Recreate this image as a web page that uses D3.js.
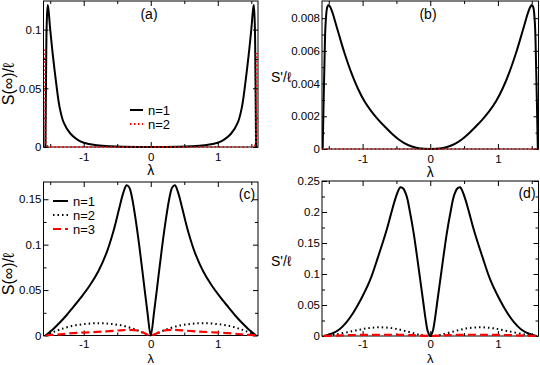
<!DOCTYPE html>
<html>
<head>
<meta charset="utf-8">
<script src="https://cdn.jsdelivr.net/npm/d3@7"></script>
<style>
  body { margin: 0; background: #fff; }
  text { font-family: "Liberation Sans", Arial, sans-serif; fill: #000; }
</style>
</head>
<body>
<script>
// Datos (lambda, valor)
const xTicks = [-1, 0, 1];
const xMinor = [-1.5, -0.5, 0.5, 1.5];

// (a) S(inf)/l
const lamA1 = [-1.5708, -1.562, -1.552, -1.537, -1.522, -1.50, -1.46, -1.41, -1.36, -1.30, -1.20, -1.10, -1.00, -0.80, -0.60, -0.40, -0.20, 0,
  0.20, 0.40, 0.60, 0.80, 1.00, 1.10, 1.20, 1.30, 1.36, 1.41, 1.46, 1.50, 1.522, 1.537, 1.552, 1.562, 1.5708];
const valA1 = [0, 0.06, 0.105, 0.121, 0.115, 0.100, 0.078, 0.054, 0.034, 0.021, 0.0115, 0.0065, 0.0036, 0.0015, 0.0006, 0.0002, 0.00003, 0,
  0.00003, 0.0002, 0.0006, 0.0015, 0.0036, 0.0065, 0.0115, 0.021, 0.034, 0.054, 0.078, 0.100, 0.115, 0.121, 0.105, 0.06, 0];
const lamA2 = [-1.577, -1.575, -1.57, -1.56, -1.53, -1.45, -1.2, 0, 1.2, 1.45, 1.53, 1.56, 1.57, 1.575, 1.577];
const valA2 = [0.083, 0.03, 0.008, 0.002, 0.0005, 0.0001, 0, 0, 0, 0.0001, 0.0005, 0.002, 0.008, 0.03, 0.08];
const yTicksA = [0, 0.05, 0.1];
const yMinorA = [0.025, 0.075];

// (b) S'/l
const lamB1 = [-1.59, -1.565, -1.545, -1.52, -1.50, -1.48, -1.45, -1.42, -1.35, -1.27, -1.17, -1.07, -0.97, -0.87, -0.77, -0.67, -0.57, -0.47, -0.37, -0.27, -0.17, 0,
  0.17, 0.27, 0.37, 0.47, 0.57, 0.67, 0.77, 0.87, 0.97, 1.07, 1.17, 1.27, 1.35, 1.42, 1.45, 1.48, 1.50, 1.52, 1.545, 1.565, 1.59];
const valB1 = [0, 0.0050, 0.0078, 0.0087, 0.0088, 0.0087, 0.0084, 0.0080, 0.0070, 0.0059, 0.0047, 0.0037, 0.0029, 0.0023, 0.0018, 0.00136, 0.00095, 0.0006, 0.00033, 0.00015, 0.00005, 0,
  0.00005, 0.00015, 0.00033, 0.0006, 0.00095, 0.00136, 0.0018, 0.0023, 0.0029, 0.0037, 0.0047, 0.0059, 0.0070, 0.0080, 0.0084, 0.0087, 0.0088, 0.0087, 0.0078, 0.0050, 0];
const lamB2 = [-1.59, 0, 1.59];
const valB2 = [0, 0, 0];
const yTicksB = [0, 0.002, 0.004, 0.006, 0.008];
const yMinorB = [0.001, 0.003, 0.005, 0.007];

// (c) S(inf)/l
const lamC1 = [-1.5708, -1.45, -1.36, -1.26, -1.16, -1.04, -0.91, -0.78, -0.66, -0.56, -0.47, -0.41, -0.36, -0.32, -0.28, -0.23, -0.17, -0.11, -0.05, 0,
  0.05, 0.11, 0.17, 0.23, 0.28, 0.32, 0.36, 0.41, 0.47, 0.56, 0.66, 0.78, 0.91, 1.04, 1.16, 1.26, 1.36, 1.45, 1.5708];
const valC1 = [0, 0.0075, 0.014, 0.022, 0.031, 0.042, 0.055, 0.071, 0.091, 0.114, 0.140, 0.157, 0.1655, 0.163, 0.152, 0.130, 0.098, 0.062, 0.026, 0,
  0.026, 0.062, 0.098, 0.130, 0.152, 0.163, 0.1655, 0.157, 0.140, 0.114, 0.091, 0.071, 0.055, 0.042, 0.031, 0.022, 0.014, 0.0075, 0];
const lamC2 = [-1.5708, -1.51, -1.36, -1.16, -0.96, -0.77, -0.60, -0.41, -0.21, -0.06, 0, 0.06, 0.21, 0.41, 0.60, 0.77, 0.96, 1.16, 1.36, 1.51, 1.5708];
const valC2 = [0, 0.002, 0.0065, 0.0107, 0.0128, 0.0136, 0.0128, 0.0107, 0.006, 0.0012, 0, 0.0012, 0.006, 0.0107, 0.0128, 0.0136, 0.0128, 0.0107, 0.0065, 0.002, 0];
const lamC3 = [-1.5708, -1.40, -1.16, -0.90, -0.66, -0.45, -0.31, -0.20, -0.12, -0.05, 0, 0.05, 0.12, 0.20, 0.31, 0.45, 0.66, 0.90, 1.16, 1.40, 1.5708];
const valC3 = [0, 0.001, 0.0026, 0.0036, 0.0046, 0.0057, 0.0062, 0.0055, 0.0035, 0.001, 0, 0.001, 0.0035, 0.0055, 0.0062, 0.0057, 0.0046, 0.0036, 0.0026, 0.001, 0];
const yTicksC = [0, 0.05, 0.1, 0.15];
const yMinorC = [0.025, 0.075, 0.125];

// (d) S'/l
const lamD1 = [-1.5708, -1.45, -1.34, -1.24, -1.14, -1.02, -0.89, -0.77, -0.645, -0.58, -0.52, -0.47, -0.44, -0.40, -0.35, -0.30, -0.245, -0.195, -0.145, -0.10, -0.07, -0.035, 0,
  0.035, 0.07, 0.10, 0.145, 0.195, 0.245, 0.30, 0.35, 0.40, 0.44, 0.47, 0.52, 0.58, 0.645, 0.77, 0.89, 1.02, 1.14, 1.24, 1.34, 1.45, 1.5708];
const valD1 = [0, 0.004, 0.011, 0.022, 0.037, 0.060, 0.090, 0.128, 0.171, 0.197, 0.220, 0.235, 0.240, 0.238, 0.226, 0.200, 0.166, 0.128, 0.088, 0.052, 0.028, 0.007, 0,
  0.007, 0.028, 0.052, 0.088, 0.128, 0.166, 0.200, 0.226, 0.238, 0.240, 0.235, 0.220, 0.197, 0.171, 0.128, 0.090, 0.060, 0.037, 0.022, 0.011, 0.004, 0];
const lamD2 = [-1.5708, -1.40, -1.14, -0.93, -0.75, -0.55, -0.35, -0.145, 0, 0.145, 0.35, 0.55, 0.75, 0.93, 1.14, 1.40, 1.5708];
const valD2 = [0, 0.0025, 0.008, 0.0125, 0.014, 0.0125, 0.0075, 0.0018, 0, 0.0018, 0.0075, 0.0125, 0.014, 0.0125, 0.008, 0.0025, 0];
const lamD3 = [-1.5708, -1.30, -1.00, -0.70, -0.40, -0.20, 0, 0.20, 0.40, 0.70, 1.00, 1.30, 1.5708];
const valD3 = [0, 0.001, 0.0018, 0.002, 0.0018, 0.001, 0, 0.001, 0.0018, 0.002, 0.0018, 0.001, 0];
const yTicksD = [0, 0.05, 0.1, 0.15, 0.2, 0.25];
const yMinorD = [0.025, 0.075, 0.125, 0.175, 0.225];

const width = 540;
const height = 365;

const estilos = {
  n1: { color: "#000", width: 2, dash: null },
  n2red: { color: "#ff0000", width: 2, dash: "1.5,2.5" },
  n2: { color: "#000", width: 2, dash: "1.5,3" },
  n3: { color: "#ff0000", width: 2.2, dash: "8,4" }
};

const svg = d3.select("body").append("svg")
  .attr("width", width)
  .attr("height", height);

function zip(xs, ys) {
  return xs.map((x, i) => [x, ys[i]]);
}

function panel(p) {
  const g = svg.append("g");
  const x = d3.scaleLinear().domain([-1.6, 1.6]).range([p.x0, p.x1]);
  const y = d3.scaleLinear().domain([0, p.ymax]).range([p.y1, p.y0]);

  // marco (primero, las curvas van encima)
  g.append("rect")
    .attr("x", p.x0).attr("y", p.y0)
    .attr("width", p.x1 - p.x0).attr("height", p.y1 - p.y0)
    .attr("fill", "none").attr("stroke", "#000").attr("stroke-width", 1);

  // ejes con ticks hacia adentro
  const fmt = d => String(d);
  g.append("g").attr("transform", `translate(0,${p.y1})`)
    .call(d3.axisBottom(x).tickValues(xTicks).tickSize(-5).tickSizeOuter(0).tickPadding(p.xPad).tickFormat(fmt));
  g.append("g").attr("transform", `translate(0,${p.y1})`)
    .call(d3.axisBottom(x).tickValues(xMinor).tickSize(-3).tickSizeOuter(0).tickFormat(""));
  g.append("g").attr("transform", `translate(0,${p.y0})`)
    .call(d3.axisTop(x).tickValues(xTicks).tickSize(-5).tickSizeOuter(0).tickFormat(""));
  g.append("g").attr("transform", `translate(0,${p.y0})`)
    .call(d3.axisTop(x).tickValues(xMinor).tickSize(-3).tickSizeOuter(0).tickFormat(""));
  g.append("g").attr("transform", `translate(${p.x0},0)`)
    .call(d3.axisLeft(y).tickValues(p.yTicks).tickSize(-5).tickSizeOuter(0).tickPadding(2).tickFormat(fmt));
  g.append("g").attr("transform", `translate(${p.x0},0)`)
    .call(d3.axisLeft(y).tickValues(p.yMinor).tickSize(-3).tickSizeOuter(0).tickFormat(""));
  g.append("g").attr("transform", `translate(${p.x1},0)`)
    .call(d3.axisRight(y).tickValues(p.yTicks).tickSize(-5).tickSizeOuter(0).tickFormat(""));
  g.append("g").attr("transform", `translate(${p.x1},0)`)
    .call(d3.axisRight(y).tickValues(p.yMinor).tickSize(-3).tickSizeOuter(0).tickFormat(""));

  g.selectAll(".domain").remove();
  g.selectAll(".tick text").attr("font-size", 11.5).attr("font-family", "Liberation Sans, Arial, sans-serif");
  g.selectAll(".tick line").attr("stroke", "#000");

  // curvas
  const line = d3.line().x(d => x(d[0])).y(d => y(d[1])).curve(d3.curveCatmullRom.alpha(0.5));
  const clipId = "clip" + p.name;
  g.append("clipPath").attr("id", clipId).append("rect")
    .attr("x", p.x0).attr("y", p.y0 - 2).attr("width", p.x1 - p.x0).attr("height", p.y1 - p.y0 + 3);
  const curvas = g.append("g").attr("clip-path", `url(#${clipId})`);
  p.series.forEach(s => {
    const st = estilos[s.estilo];
    curvas.append("path")
      .datum(zip(s.lam, s.val))
      .attr("fill", "none")
      .attr("stroke", st.color)
      .attr("stroke-width", st.width)
      .attr("stroke-dasharray", st.dash)
      .attr("d", line);
  });

  // titulos
  g.append("text")
    .attr("x", (p.x0 + p.x1) / 2).attr("y", p.y1 + p.lamDy)
    .attr("text-anchor", "middle").attr("font-size", p.lamSize)
    .text("λ");
  if (p.yRot) {
    g.append("text")
      .attr("transform", `translate(${p.yLabX},${p.yLabY}) rotate(-90)`)
      .attr("text-anchor", "middle").attr("font-size", 16)
      .text(p.yLabel);
  } else {
    g.append("text")
      .attr("x", p.yLabX).attr("y", p.yLabY)
      .attr("font-size", 14)
      .text(p.yLabel);
  }
  g.append("text")
    .attr("x", p.tagX).attr("y", p.tagY)
    .attr("text-anchor", "middle").attr("font-size", 14)
    .text(p.tag);

  // leyenda
  if (p.legend) {
    p.series.forEach((s, i) => {
      const st = estilos[s.estilo];
      const ly = p.legend.y + i * p.legend.dy;
      g.append("line")
        .attr("x1", p.legend.x).attr("x2", p.legend.x + p.legend.len)
        .attr("y1", ly).attr("y2", ly)
        .attr("stroke", st.color).attr("stroke-width", st.width)
        .attr("stroke-dasharray", st.dash);
      g.append("text")
        .attr("x", p.legend.x + p.legend.len + 5).attr("y", ly + 4.5)
        .attr("font-size", 13)
        .text(s.label);
    });
  }
}

panel({
  name: "a", x0: 43.5, x1: 258, y0: 1, y1: 147, ymax: 0.1244,
  xPad: 6, lamDy: 28, lamSize: 14,
  yTicks: yTicksA, yMinor: yMinorA,
  yLabel: "S(∞)/ℓ", yRot: true, yLabX: 14, yLabY: 84,
  tag: "(a)", tagX: 149, tagY: 19,
  legend: { x: 130, y: 110, dy: 14, len: 13 },
  series: [
    { lam: lamA1, val: valA1, estilo: "n1", label: "n=1" },
    { lam: lamA2, val: valA2, estilo: "n2red", label: "n=2" }
  ]
});

panel({
  name: "b", x0: 322, x1: 538.5, y0: 1, y1: 149, ymax: 0.00905,
  xPad: 6, lamDy: 28, lamSize: 14,
  yTicks: yTicksB, yMinor: yMinorB,
  yLabel: "S'/ℓ", yRot: false, yLabX: 271, yLabY: 82,
  tag: "(b)", tagX: 428, tagY: 19,
  legend: null,
  series: [
    { lam: lamB1, val: valB1, estilo: "n1", label: "n=1" },
    { lam: lamB2, val: valB2, estilo: "n2red", label: "n=2" }
  ]
});

panel({
  name: "c", x0: 43.5, x1: 258, y0: 182, y1: 335.5, ymax: 0.169,
  xPad: 4, lamDy: 27.5, lamSize: 13,
  yTicks: yTicksC, yMinor: yMinorC,
  yLabel: "S(∞)/ℓ", yRot: true, yLabX: 14, yLabY: 274,
  tag: "(c)", tagX: 247, tagY: 199,
  legend: { x: 53, y: 201, dy: 14, len: 15 },
  series: [
    { lam: lamC1, val: valC1, estilo: "n1", label: "n=1" },
    { lam: lamC2, val: valC2, estilo: "n2", label: "n=2" },
    { lam: lamC3, val: valC3, estilo: "n3", label: "n=3" }
  ]
});

panel({
  name: "d", x0: 322, x1: 538.5, y0: 181, y1: 336, ymax: 0.25,
  xPad: 4, lamDy: 27, lamSize: 13,
  yTicks: yTicksD, yMinor: yMinorD,
  yLabel: "S'/ℓ", yRot: false, yLabX: 271, yLabY: 266,
  tag: "(d)", tagX: 527, tagY: 198,
  legend: null,
  series: [
    { lam: lamD1, val: valD1, estilo: "n1", label: "n=1" },
    { lam: lamD2, val: valD2, estilo: "n2", label: "n=2" },
    { lam: lamD3, val: valD3, estilo: "n3", label: "n=3" }
  ]
});
</script>
</body>
</html>
